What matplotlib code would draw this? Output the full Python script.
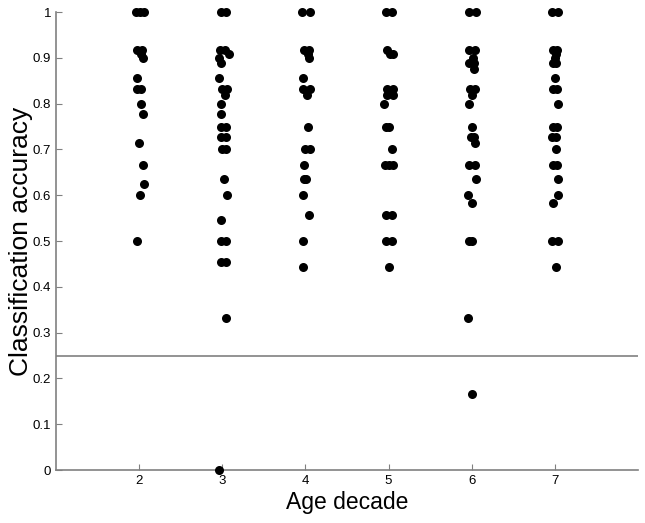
import matplotlib
matplotlib.use("Agg")
import matplotlib.pyplot as plt
import numpy as np

plt.rcParams['font.family'] = ['Liberation Sans', 'DejaVu Sans']

decades = [2, 3, 4, 5, 6, 7]
chance_level = 0.25

# accuracy values and horizontal jitter (decade units) for each decade
acc_2 = [1, 1, 1, 0.917, 0.909, 0.917, 0.9, 0.857, 0.833, 0.833, 0.8, 0.778,
         0.714, 0.667, 0.625, 0.6, 0.5]
jit_2 = [-0.04, 0.01, 0.06, -0.03, 0.02, 0.04, 0.045, -0.03, -0.02, 0.02, 0.02, 0.045,
         0.0, 0.05, 0.055, 0.01, -0.03]

acc_3 = [1, 1, 0.917, 0.917, 0.909, 0.9, 0.889, 0.857, 0.833, 0.833, 0.818, 0.8,
         0.778, 0.75, 0.75, 0.727, 0.727, 0.7, 0.7, 0.636, 0.6, 0.545, 0.5, 0.5,
         0.455, 0.455, 0.333, 0.0]
jit_3 = [-0.02, 0.05, -0.03, 0.03, 0.08, -0.04, -0.01, -0.04, 0.0, 0.06, 0.03, -0.02,
         -0.02, -0.02, 0.04, -0.02, 0.04, 0.0, 0.05, 0.02, 0.055, -0.02, -0.02, 0.04,
         -0.02, 0.04, 0.05, -0.04]

acc_4 = [1, 1, 0.917, 0.917, 0.909, 0.9, 0.857, 0.833, 0.833, 0.818, 0.75, 0.7, 0.7,
         0.667, 0.636, 0.636, 0.6, 0.556, 0.5, 0.444]
jit_4 = [-0.04, 0.05, -0.02, 0.04, 0.03, 0.04, -0.03, -0.03, 0.05, 0.02, 0.03, -0.01, 0.06,
         -0.02, -0.02, 0.01, -0.03, 0.04, -0.03, -0.03]

acc_5 = [1, 1, 0.917, 0.909, 0.909, 0.833, 0.833, 0.818, 0.818, 0.8, 0.75, 0.75, 0.7,
         0.667, 0.667, 0.667, 0.556, 0.556, 0.5, 0.5, 0.444]
jit_5 = [-0.03, 0.04, -0.02, 0.05, 0.02, -0.02, 0.05, -0.02, 0.05, -0.05, -0.03, 0.01, 0.04,
         -0.04, 0.01, 0.05, -0.03, 0.04, -0.03, 0.04, 0.0]

acc_6 = [1, 1, 0.917, 0.917, 0.9, 0.889, 0.889, 0.875, 0.833, 0.833, 0.818, 0.8, 0.75,
         0.727, 0.727, 0.714, 0.667, 0.667, 0.636, 0.6, 0.583, 0.5, 0.5, 0.333, 0.167]
jit_6 = [-0.03, 0.05, -0.03, 0.04, 0.02, -0.03, 0.03, 0.03, -0.02, 0.04, 0.0, -0.03, 0.01,
         -0.01, 0.03, 0.04, -0.03, 0.04, 0.05, -0.04, 0.01, -0.03, 0.0, -0.04, 0.0]

acc_7 = [1, 1, 0.917, 0.917, 0.909, 0.9, 0.889, 0.889, 0.857, 0.833, 0.833, 0.8, 0.75,
         0.75, 0.727, 0.727, 0.7, 0.667, 0.667, 0.636, 0.6, 0.583, 0.5, 0.5, 0.444]
jit_7 = [-0.03, 0.04, -0.02, 0.03, 0.02, 0.0, -0.02, 0.02, 0.0, -0.02, 0.03, 0.04, -0.02,
         0.03, -0.03, 0.01, 0.01, -0.02, 0.03, 0.04, 0.04, -0.02, -0.03, 0.04, 0.01]

accs = [acc_2, acc_3, acc_4, acc_5, acc_6, acc_7]
jits = [jit_2, jit_3, jit_4, jit_5, jit_6, jit_7]

fig = plt.figure(figsize=(6.45, 5.23), dpi=100)
ax = fig.add_axes([0.0868, 0.1013, 0.9022, 0.8757])

for d, a, j in zip(decades, accs, jits):
    xs = d + np.array(j)
    ax.plot(xs, a, 'o', color='black', markersize=6.5, markeredgewidth=0, clip_on=False, zorder=3)

spine_col = '#808080'
ax.axhline(chance_level, color=spine_col, lw=1.2, zorder=2)

ax.set_xlim(1, 8)
ax.set_ylim(0, 1)
ax.set_xticks(decades)
ax.set_xticklabels([str(d) for d in decades])
yt = np.round(np.arange(0, 1.01, 0.1), 1)
ax.set_yticks(yt)
ax.set_yticklabels(['0'] + ['%.1f' % v for v in yt[1:-1]] + ['1'])

for s in ['top', 'right']:
    ax.spines[s].set_visible(False)
for s in ['left', 'bottom']:
    ax.spines[s].set_color(spine_col)
    ax.spines[s].set_linewidth(1.2)

ax.tick_params(direction='in', length=4, width=0.8, colors=spine_col, labelcolor='black', labelsize=9.5)
ax.set_xlabel('Age decade', fontsize=16.5, labelpad=3)
ax.set_ylabel('Classification accuracy', fontsize=19, labelpad=0)

fig.savefig('out.png', dpi=100)
